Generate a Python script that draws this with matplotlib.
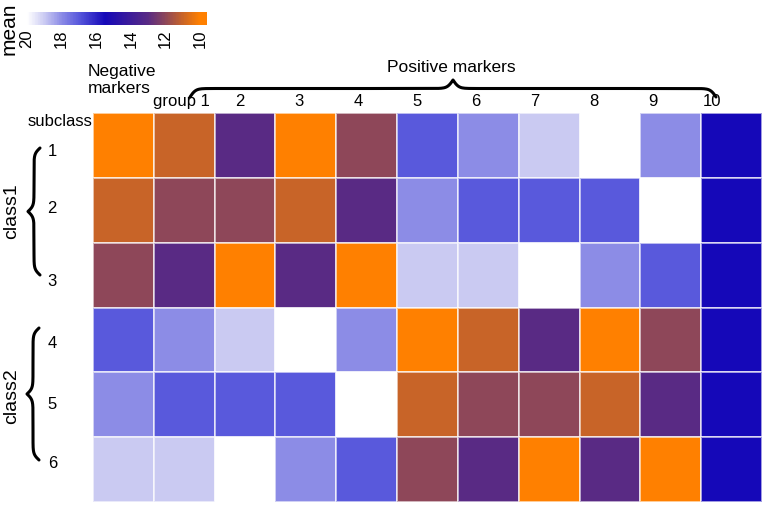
import numpy as np
import matplotlib
matplotlib.use("Agg")
import matplotlib.pyplot as plt
from matplotlib.colors import LinearSegmentedColormap, Normalize
from matplotlib.cm import ScalarMappable

plt.rcParams['font.family'] = ['Liberation Sans', 'DejaVu Sans']

# mean value per subclass (rows) and marker group (columns)
subclasses = ["1", "2", "3", "4", "5", "6"]
groups = ["", "group 1", "2", "3", "4", "5", "6", "7", "8", "9", "10"]
row1 = [10, 11, 13, 10, 12, 17, 18, 19, 20, 18, 15.5]
row2 = [11, 12, 12, 11, 13, 18, 17, 17, 17, 20, 15.5]
row3 = [12, 13, 10, 13, 10, 19, 19, 20, 18, 17, 15.5]
row4 = [17, 18, 19, 20, 18, 10, 11, 13, 10, 12, 15.5]
row5 = [18, 17, 17, 17, 20, 11, 12, 12, 11, 13, 15.5]
row6 = [19, 19, 20, 18, 17, 12, 13, 10, 13, 10, 15.5]
values = np.array([row1, row2, row3, row4, row5, row6])

# colour scale: white (high mean) -> blue -> purple -> orange (low mean)
vmin, vmax = 9.6, 20.4
stops = [(9.6, "#FF8000"), (10, "#FF8000"), (11, "#C86428"), (12, "#8C465A"),
         (13, "#582A84"), (15.5, "#1508B8"), (17, "#5858DC"), (18, "#8A8AE6"),
         (19, "#CACAF2"), (20, "#FFFFFF"), (20.4, "#FFFFFF")]
cmap = LinearSegmentedColormap.from_list(
    "mean", [((v - vmin) / (vmax - vmin), c) for v, c in stops])
norm = Normalize(vmin=vmin, vmax=vmax)

W, H = 763, 507
fig = plt.figure(figsize=(W / 100, H / 100), dpi=100)

# heatmap
ax = fig.add_axes([93 / W, 1 - 502 / H, 669 / W, 389 / H])
ax.pcolormesh(values, cmap=cmap, norm=norm, edgecolors=(1, 1, 1, 0.6), linewidth=1.2)
ax.set_xlim(0, values.shape[1])
ax.set_ylim(values.shape[0], 0)
for s in ax.spines.values():
    s.set_visible(False)
ax.xaxis.tick_top()
ax.set_xticks([0.48 + 0.97 * k for k in range(1, 11)])
ax.set_xticklabels(groups[1:], fontsize=12)
ax.set_yticks([0.57, 1.45, 2.58, 3.53, 4.48, 5.39])
ax.set_yticklabels(subclasses, fontsize=12)
ax.tick_params(length=0, pad=3)
ax.tick_params(axis='y', pad=26)

# colour bar
cax = fig.add_axes([20 / W, 1 - 25 / H, 187 / W, 13 / H])
sm = ScalarMappable(norm=norm, cmap=cmap)
cb = fig.colorbar(sm, cax=cax, orientation='horizontal')
cb.outline.set_visible(False)
cax.invert_xaxis()
cb.set_ticks([20, 18, 16, 14, 12, 10])
cax.tick_params(length=0, pad=3, labelsize=12, labelrotation=90)

# overlay in pixel coordinates for labels and braces
ov = fig.add_axes([0, 0, 1, 1], facecolor='none')
ov.set_xlim(0, W)
ov.set_ylim(H, 0)
ov.axis('off')


def brace(p0, p1, depth, beta=0.35):
    # curly brace from p0 to p1; tip offset by depth (pixels) to the left of travel
    p0, p1 = np.asarray(p0, float), np.asarray(p1, float)
    L = np.hypot(*(p1 - p0))
    x = np.linspace(0, L / 2, 200)
    y = 1 / (1 + np.exp(-beta * x)) + 1 / (1 + np.exp(-beta * (x - L / 2)))
    y = np.concatenate([y, y[::-1]]) - 0.5
    x = np.concatenate([x, L - x[::-1]])
    u = (p1 - p0) / L
    n = np.array([u[1], -u[0]])
    pts = p0 + np.outer(x, u) + np.outer(y * depth, n)
    ov.plot(pts[:, 0], pts[:, 1], color='black', lw=2.2, solid_capstyle='round')


brace((190, 97), (716, 97), 17)
brace((40, 275), (40, 148), 12)
brace((39, 460), (39, 328), 12)

ov.text(9, 29, "mean", rotation=90, ha='center', va='center', fontsize=15)
ov.text(88, 80, "Negative\nmarkers", ha='left', va='center', fontsize=12.5, linespacing=1.2)
ov.text(451, 68, "Positive markers", ha='center', va='center', fontsize=12.5)
ov.text(92, 121, "subclass", ha='right', va='center', fontsize=12)
ov.text(12, 211, "class1", rotation=90, ha='center', va='center', fontsize=14)
ov.text(12, 396, "class2", rotation=90, ha='center', va='center', fontsize=14)

fig.savefig("out.png", dpi=100)
